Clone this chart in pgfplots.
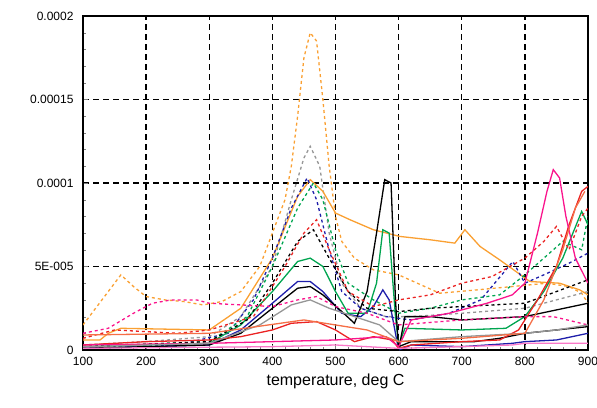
\documentclass[border=0pt]{standalone}
\usepackage{pgfplots}
\pgfplotsset{compat=1.18}
\usepackage{fontspec}
\setmainfont{Liberation Sans}

\definecolor{corange}{RGB}{250,160,50}
\definecolor{cblue}{RGB}{30,30,170}
\definecolor{cgreen}{RGB}{0,165,80}
\definecolor{cred}{RGB}{235,35,35}
\definecolor{cmag}{RGB}{250,20,140}
\definecolor{cpink}{RGB}{250,120,200}
\definecolor{cgray}{RGB}{150,150,150}
\definecolor{csalmon}{RGB}{245,110,70}

\begin{document}
\begin{tikzpicture}
\begin{axis}[
    scale only axis,
    width=505pt, height=334pt,
    xmin=100, xmax=900, ymin=0, ymax=20,
    xtick={100,200,...,900},
    ytick={0,5,10,15,20},
    yticklabels={0,5E-005,0.0001,0.00015,0.0002},
    minor x tick num=4, minor y tick num=4,
    xtick pos=left, ytick pos=left,
    tick align=inside,
    major tick length=5pt, minor tick length=3pt,
    grid=major,
    grid style={black, line width=1.4pt, dash pattern=on 6pt off 4pt},
    axis line style={line width=1.6pt},
    /pgf/number format/assume math mode=true,
    tick label style={font=\fontsize{12}{14}\selectfont},
    xticklabel style={yshift=-4pt},
    yticklabel style={xshift=-6pt},
    xlabel={temperature, deg C},
    xlabel style={font=\fontsize{16}{18}\selectfont, yshift=-1pt},
    every axis plot/.append style={line width=1.3pt},
]
% orange dashed, big peak
\addplot[corange, dashed] coordinates {(100,1.5) (130,3) (160,4.5) (180,3.8) (200,3.2) (230,3.0) (260,2.9) (290,2.7) (320,2.9) (350,3.5) (380,5) (400,7) (420,9) (430,11) (440,14) (450,17.5) (460,19) (470,18.5) (480,15) (490,11) (500,8) (510,6.5) (530,5.5) (560,4.8) (600,4.5) (665,3.4) (724,3.6) (780,3.8) (835,4.0) (870,3.8) (890,3.4) (900,2.8)};
% gray dashed
\addplot[cgray, dashed] coordinates {(100,0.3) (200,0.5) (300,0.8) (350,2) (400,5) (430,9) (450,11.5) (460,12.2) (475,11) (490,7) (510,4) (540,2.5) (580,2) (620,2) (700,2.2) (800,2.5) (850,3) (900,3.5)};
% orange solid
\addplot[corange] coordinates {(100,0.6) (127,0.6) (140,1.0) (160,1.3) (300,1.2) (350,2.5) (400,5.5) (440,9.2) (460,10.2) (480,9.5) (500,8.2) (523,7.8) (560,7.2) (602,6.8) (650,6.6) (689,6.4) (705,7.2) (729,6.2) (760,5.4) (808,4.1) (855,4.0) (887,3.6) (900,3.3)};
% blue dashed
\addplot[cblue, dashed] coordinates {(100,0.2) (250,0.3) (330,1) (370,3) (400,5.5) (430,8.5) (455,10.3) (470,9) (490,6) (510,3.5) (540,2.5) (580,2) (620,1.8) (680,2.2) (730,3) (781,5.3) (800,4.0) (830,4.5) (870,5.2) (900,5.8)};
% blue solid
\addplot[cblue] coordinates {(100,0.1) (300,0.3) (350,1.2) (400,2.8) (440,4.1) (460,4.1) (480,3.5) (510,2.2) (540,2) (560,2.6) (575,3.6) (585,3.0) (595,1) (600,0) (620,0.3) (700,0.2) (780,0.4) (800,0.5) (850,0.6) (900,1.0)};
% green solid
\addplot[cgreen] coordinates {(100,0.2) (300,0.4) (350,1.5) (400,3.5) (440,5.3) (460,5.5) (480,5) (500,3.5) (520,2.2) (550,2.2) (565,4) (575,7.2) (585,7) (595,2) (600,0.3) (610,1.3) (700,1.2) (770,1.3) (800,2.0) (830,3.5) (860,5.5) (890,8.3) (900,7.5)};
% green dashed
\addplot[cgreen, dashed] coordinates {(100,0.2) (300,0.5) (360,2) (400,5) (440,8.5) (465,10) (480,9) (500,6) (520,4) (560,3) (600,2.2) (650,2.5) (700,3) (760,3.3) (800,4.5) (830,5.5) (860,6.5) (890,6) (900,8)};
% black dashed
\addplot[black, dashed] coordinates {(100,0.2) (300,0.5) (360,1.8) (400,4) (440,6.5) (465,7.2) (490,5.5) (520,3.5) (550,2.5) (600,2.3) (650,2.5) (700,2.6) (750,2.7) (800,2.8) (850,3.5) (900,4.2)};
% black solid, spike near 580
\addplot[black] coordinates {(100,0.1) (300,0.3) (350,1) (400,2.5) (440,3.7) (460,3.8) (480,3.3) (510,2.3) (530,1.6) (550,3.5) (565,7) (578,10.2) (588,10) (595,3) (600,0) (610,2) (650,2) (700,1.8) (750,1.9) (800,2.0) (850,2.4) (900,2.8)};
\addplot[black] coordinates {(600,0.2) (620,0.5) (720,0.5) (760,0.7) (800,1.0) (850,1.2) (900,1.4)};
% red solid
\addplot[cred] coordinates {(100,0.3) (200,0.5) (300,0.6) (350,0.8) (400,1.2) (430,1.6) (470,1.7) (500,1.2) (530,0.5) (560,0.8) (590,0.6) (600,0.1) (620,0.3) (700,0.5) (760,0.6) (790,1.2) (820,3) (850,5) (870,7.5) (890,9.5) (900,9.8)};
% red dashed
\addplot[cred, dashed] coordinates {(100,0.7) (150,1.2) (250,1.0) (300,1.2) (370,2) (420,5) (450,7) (470,7.8) (490,6) (520,3.5) (560,2.6) (600,3) (650,3.3) (700,4) (748,4.4) (800,5.5) (830,6.5) (850,7.4) (870,6) (890,8) (900,8.5)};
% magenta solid
\addplot[cmag] coordinates {(100,0.3) (300,0.4) (400,0.5) (500,0.6) (580,0.8) (600,0.2) (620,1.8) (680,2.2) (740,2.8) (780,3.3) (800,4) (820,7) (835,9.5) (845,10.8) (855,10.3) (865,8) (880,5.5) (900,4.0)};
% magenta dashed
\addplot[cmag, dashed] coordinates {(100,1.0) (140,1.3) (180,2.2) (210,2.8) (240,3.0) (280,3.0) (300,2.8) (350,2.7) (400,2.6) (440,3) (470,3.2) (500,2.6) (550,2.2) (600,1.5) (700,1.8) (800,2.0) (845,2.0) (900,1.5)};
% gray solid
\addplot[cgray] coordinates {(100,0.2) (300,0.4) (380,1.5) (430,2.7) (460,3.0) (490,2.5) (530,2) (570,1.5) (600,0.5) (700,0.8) (800,1.0) (850,1.2) (900,1.5)};
% pink solid
\addplot[cpink] coordinates {(100,0.1) (400,0.2) (500,0.3) (600,0.1) (700,0.2) (780,0.3) (800,0.4) (900,0.4)};
% salmon solid
\addplot[csalmon] coordinates {(100,0.9) (300,1.0) (450,1.8) (550,1.2) (600,0.5) (700,0.7) (800,1.0) (830,3) (860,6) (880,8.5) (895,9.5)};
\end{axis}
\pgfresetboundingbox
\path[use as bounding box] (-83pt,-57pt) rectangle (514pt,350pt);
\end{tikzpicture}
\end{document}
